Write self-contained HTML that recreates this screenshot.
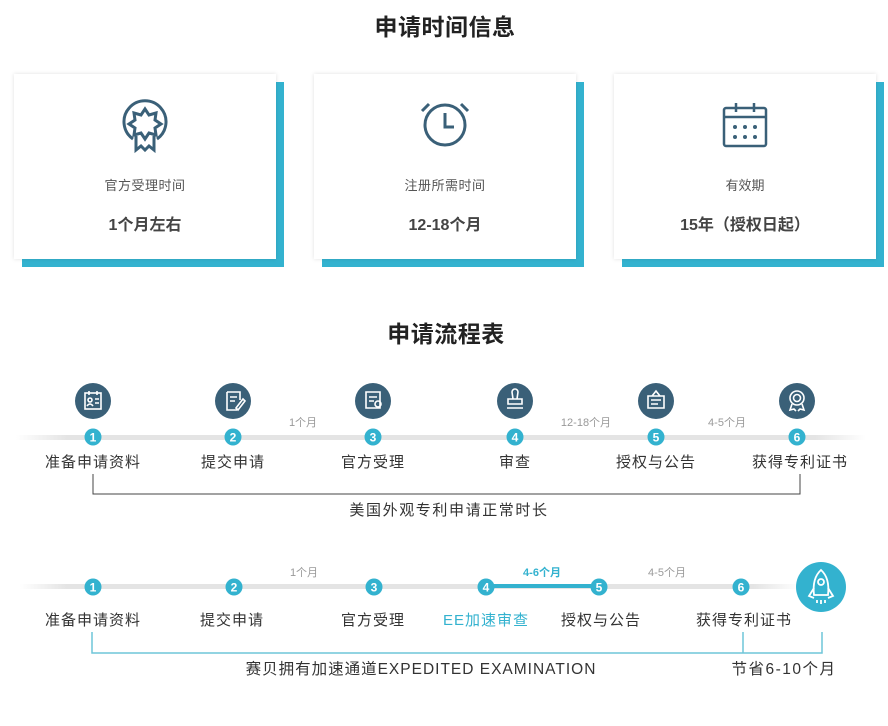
<!DOCTYPE html>
<html><head><meta charset="utf-8"><style>
html,body{margin:0;padding:0;background:#fff;}
svg{display:block;font-family:"Liberation Sans","Noto Sans CJK SC",sans-serif;}
</style></head><body>
<svg width="888" height="726" viewBox="0 0 888 726" xmlns="http://www.w3.org/2000/svg">
<defs>
<linearGradient id="gl" x1="0" x2="1"><stop offset="0" stop-color="#e4e4e4" stop-opacity="0"/><stop offset="0.06" stop-color="#e4e4e4"/><stop offset="0.94" stop-color="#e4e4e4"/><stop offset="1" stop-color="#e4e4e4" stop-opacity="0"/></linearGradient>
<filter id="sh" x="-10%" y="-10%" width="120%" height="120%"><feDropShadow dx="0" dy="0" stdDeviation="2" flood-color="#000" flood-opacity="0.12"/></filter>
</defs>
<text x="445" y="35" text-anchor="middle" font-size="23" font-weight="bold" fill="#222" letter-spacing="0.5">申请时间信息</text>
<g>
<rect x="22" y="82" width="262" height="185" fill="#33b2cf"/>
<rect x="14" y="74" width="262" height="185" fill="#fff" filter="url(#sh)"/>
<rect x="322" y="82" width="262" height="185" fill="#33b2cf"/>
<rect x="314" y="74" width="262" height="185" fill="#fff" filter="url(#sh)"/>
<rect x="622" y="82" width="262" height="185" fill="#33b2cf"/>
<rect x="614" y="74" width="262" height="185" fill="#fff" filter="url(#sh)"/>
</g>
<g stroke="#3a6078" stroke-width="3" fill="none">
<path d="M133 139 A21 21 0 1 1 157 139"/>
<polygon points="145,109 149,115 156,113 155,120 161,124 155,128 156,135 149,133 145,139 141,133 134,135 135,128 129,124 135,120 134,113 141,115"/>
<path d="M136 136 L136 150 L141 146 L145 150 L149 146 L154 150 L154 136"/>
</g>
<g stroke="#3a6078" stroke-width="3" fill="none">
<circle cx="445" cy="125" r="20"/>
<path d="M445 113 V127 H454"/>
<path d="M422 111 L429 104 M468 111 L461 104"/>
</g>
<g stroke="#3a6078" stroke-width="2.5" fill="none">
<rect x="724" y="108" width="42" height="38" rx="2"/>
<path d="M724 117 H766 M736 103 V112 M754 103 V112"/>
</g>
<g fill="#3a6078"><circle cx="735" cy="127" r="2"/><circle cx="745" cy="127" r="2"/><circle cx="755" cy="127" r="2"/><circle cx="735" cy="137" r="2"/><circle cx="745" cy="137" r="2"/><circle cx="755" cy="137" r="2"/></g>
<g text-anchor="middle">
<text x="145" y="190" font-size="13" fill="#555" letter-spacing="0.5">官方受理时间</text>
<text x="145" y="230" font-size="16" font-weight="bold" fill="#444">1个月左右</text>
<text x="445" y="190" font-size="13" fill="#555" letter-spacing="0.5">注册所需时间</text>
<text x="445" y="230" font-size="16" font-weight="bold" fill="#444">12-18个月</text>
<text x="745" y="190" font-size="13" fill="#555">有效期</text>
<text x="745" y="230" font-size="16" font-weight="bold" fill="#444">15年（授权日起）</text>
</g>
<text x="446" y="342" text-anchor="middle" font-size="23" font-weight="bold" fill="#222" letter-spacing="0.5">申请流程表</text>
<rect x="16" y="435" width="850" height="5" fill="url(#gl)"/>
<g fill="#3a6078">
<circle cx="93" cy="401" r="18"/><circle cx="233" cy="401" r="18"/><circle cx="373" cy="401" r="18"/><circle cx="515" cy="401" r="18"/><circle cx="656" cy="401" r="18"/><circle cx="797" cy="401" r="18"/>
</g>
<g stroke="#fff" stroke-width="1.6" fill="none">
<rect x="85" y="393" width="16" height="16"/><circle cx="90" cy="400" r="2"/><path d="M87 406 Q90 402 93 406 M95 399 H99 M95 403 H99 M89 391 V395 M97 391 V395"/>
<path d="M227 392 H240 V400 M227 392 V410 H237 M230 397 H237 M230 401 H235 M236 408 L243 399 L245 401 L238 410 Z"/>
<path d="M366 392 H380 V408 H366 Z M369 397 H377 M369 401 H374"/><circle cx="378" cy="404" r="3"/>
<path d="M512 392 A3 3 0 1 1 518 392 L517 399 H513 Z M508 399 H522 V404 H508 Z M507 408 H523"/>
<path d="M648 396 H664 V408 H648 Z M651 400 H661 M651 404 H658 M652 396 L656 391 L660 396"/>
<circle cx="797" cy="398" r="7"/><circle cx="797" cy="398" r="3.5"/><path d="M792 404 L790 410 L794 409 L796 411 M802 404 L804 410 L800 409 L798 411"/>
</g>
<g fill="#33b2cf">
<circle cx="93" cy="437" r="8.5"/><circle cx="233" cy="437" r="8.5"/><circle cx="373" cy="437" r="8.5"/><circle cx="515" cy="437" r="8.5"/><circle cx="656" cy="437" r="8.5"/><circle cx="797" cy="437" r="8.5"/>
</g>
<g fill="#fff" font-size="12" font-weight="bold" text-anchor="middle">
<text x="93" y="441.5">1</text><text x="233" y="441.5">2</text><text x="373" y="441.5">3</text><text x="515" y="441.5">4</text><text x="656" y="441.5">5</text><text x="797" y="441.5">6</text>
</g>
<g fill="#999" font-size="11" text-anchor="middle">
<text x="303" y="426">1个月</text><text x="586" y="426">12-18个月</text><text x="727" y="426">4-5个月</text>
</g>
<g fill="#333" font-size="15" text-anchor="middle" letter-spacing="1">
<text x="93" y="467">准备申请资料</text><text x="233" y="467">提交申请</text><text x="373" y="467">官方受理</text><text x="515" y="467">审查</text><text x="656" y="467">授权与公告</text><text x="800" y="467">获得专利证书</text>
</g>
<path d="M93 474 V494 H800 V474" stroke="#444" stroke-width="1" fill="none"/>
<text x="449" y="515" text-anchor="middle" font-size="15" fill="#333" letter-spacing="1.6">美国外观专利申请正常时长</text>
<rect x="20" y="584" width="780" height="5" fill="url(#gl)"/>
<rect x="486" y="584" width="113" height="4" fill="#33b2cf"/>
<g fill="#33b2cf">
<circle cx="93" cy="587" r="8.5"/><circle cx="234" cy="587" r="8.5"/><circle cx="374" cy="587" r="8.5"/><circle cx="486" cy="587" r="8.5"/><circle cx="599" cy="587" r="8.5"/><circle cx="741" cy="587" r="8.5"/>
<circle cx="821" cy="587" r="25"/>
</g>
<g fill="#fff" font-size="12" font-weight="bold" text-anchor="middle">
<text x="93" y="591.5">1</text><text x="234" y="591.5">2</text><text x="374" y="591.5">3</text><text x="486" y="591.5">4</text><text x="599" y="591.5">5</text><text x="741" y="591.5">6</text>
</g>
<g stroke="#fff" stroke-width="1.8" fill="none">
<path d="M821 570 Q830 578 828 595 H814 Q812 578 821 570 Z"/><circle cx="821" cy="582" r="3"/>
<path d="M814 588 L809 596 L814 598 M828 588 L833 596 L828 598 M817 600 V603 M821 600 V604 M825 600 V603"/>
</g>
<g font-size="11" text-anchor="middle">
<text x="304" y="576" fill="#999">1个月</text>
<text x="542" y="576" fill="#33b2cf" font-weight="bold">4-6个月</text>
<text x="667" y="576" fill="#999">4-5个月</text>
</g>
<g fill="#333" font-size="15" text-anchor="middle" letter-spacing="1">
<text x="93" y="625">准备申请资料</text><text x="232" y="625">提交申请</text><text x="373" y="625">官方受理</text><text x="486" y="625" fill="#33b2cf">EE加速审查</text><text x="601" y="625">授权与公告</text><text x="744" y="625">获得专利证书</text>
</g>
<path d="M92 632 V653 H822 V632 M743 632 V653" stroke="#6fc5d9" stroke-width="1.5" fill="none"/>
<text x="421" y="674" text-anchor="middle" font-size="15.5" fill="#333" letter-spacing="1">赛贝拥有加速通道EXPEDITED EXAMINATION</text>
<text x="784" y="674" text-anchor="middle" font-size="15.5" fill="#333" letter-spacing="1.5">节省6-10个月</text>
</svg>
</body></html>
